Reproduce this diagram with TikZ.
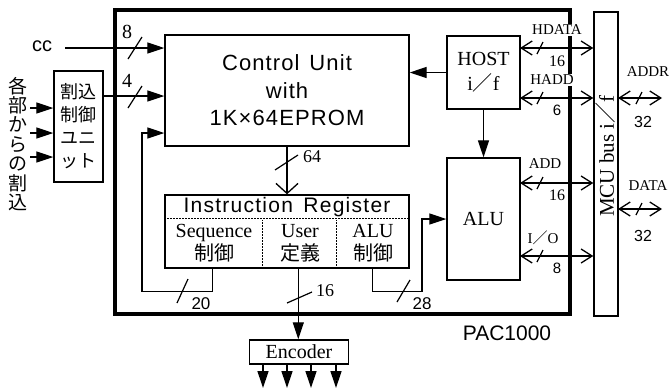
\documentclass[tikz,border=0pt]{standalone}
\usepackage{fontspec}
\setmainfont{Liberation Serif}
\setsansfont{Liberation Sans}
\newfontfamily\cjk{Noto Sans CJK JP}
\usetikzlibrary{arrows.meta,calc}
\newcommand\fsz[2]{\fontsize{#1}{#2}\selectfont}
\begin{document}
\begin{tikzpicture}[x=1pt,y=-1pt,line width=1.3pt,
  box/.style={draw,line width=1.4pt,inner sep=0pt,align=center},
  lbl/.style={inner sep=0pt,align=center},
  fa/.style={-{Triangle[length=17pt,width=11pt]}},
  bi/.style={{Straight Barb[length=11pt,width=14pt]}-{Straight Barb[length=11pt,width=14pt]}},
  sl/.style={line width=1.2pt},
  dots/.style={line width=1.3pt,dash pattern=on 1.5pt off 1.5pt}]
\useasboundingbox (0,0) rectangle (672,389);
% frame
\node[draw,line width=4pt,minimum width=455pt,minimum height=304pt,inner sep=0pt] (pac) at (342.5,162) {};
\node[lbl,font=\sffamily\fsz{21}{24}] (paclbl) at (507,333) {PAC1000};
% boxes
\node[box,minimum width=244pt,minimum height=111pt,font=\sffamily\fsz{22}{27.5}\addfontfeature{LetterSpace=5}] (cu) at (287,90.5) {Control\hspace{0.45em}Unit\\with\\1K×64EPROM};
\node[box,minimum width=73pt,minimum height=73pt,font=\fsz{20}{25}] (host) at (483.5,72.5) {HOST\\i{\cjk ／}f};
\node[box,minimum width=73pt,minimum height=122pt,font=\fsz{20}{24}] (alu) at (483.5,219) {ALU};
\node[box,minimum width=244pt,minimum height=73pt] (ir) at (287,231.5) {};
\node[box,minimum width=24pt,minimum height=304pt] (mcu) at (606,164) {};
\node[lbl,rotate=90,font=\fsz{21}{24}] (mculbl) at (606,156) {MCU bus i{\cjk ／}f};
\node[box,minimum width=49pt,minimum height=111pt,font=\cjk\fsz{18}{23}] (int) at (78.5,126.5) {割込\\制御\\ユニ\\ット};
\node[box,minimum width=99pt,minimum height=24pt,font=\fsz{20}{24}] (enc) at (299,352) {Encoder};
% IR contents
\draw[dots] ($(ir.north west)+(0,24)$) -- ($(ir.north east)+(0,24)$);
\draw[dots] ($(ir.south west)+(98,0)$) -- ($(ir.south west)+(98,-49)$);
\draw[dots] ($(ir.south west)+(172,0)$) -- ($(ir.south west)+(172,-49)$);
\node[lbl,font=\sffamily\fsz{21}{24}\addfontfeature{LetterSpace=6}] (irlbl) at (287,207) {Instruction\hspace{0.5em}Register};
\node[lbl,font=\fsz{20}{23}] (seq) at (214,243.5) {Sequence\\{\cjk 制御}};
\node[lbl,font=\fsz{20}{23}] (usr) at (300,243.5) {User\\{\cjk 定義}};
\node[lbl,font=\fsz{20}{23}] (aluc) at (373,243.5) {ALU\\{\cjk 制御}};
% left texts
\node[lbl,font=\cjk\fsz{19}{19.4}] (vt) at (18,144) {各\\部\\か\\ら\\の\\割\\込};
\node[lbl,font=\sffamily\fsz{20}{24}] (cc) at (42,46) {cc};
% inputs
\foreach \y/\n in {108/a,133/b,157/c}{
  \coordinate (in\n) at (30,\y);
  \draw[fa] (in\n) -- (in\n -| int.west);
}
\coordinate (ccs) at (65,48);
\draw[fa] (ccs) -- (ccs -| cu.west);
\draw[sl] (128,59) -- (142,37);
\node[lbl,font=\fsz{20}{22}] (l8) at (127,32) {8};
\coordinate (i4) at (103,96);
\draw[fa] (i4) -- (i4 -| cu.west);
\draw[sl] (128,108) -- (142,86);
\node[lbl,font=\fsz{20}{22}] (l4) at (127,81) {4};
% feedback from sequence
\coordinate (seqo) at ($(ir.south west)+(48,0)$);
\coordinate (fb) at (142,133);
\draw[fa] (seqo) -- ++(0,23) -| (fb) -- (fb -| cu.west);
\draw[sl] (177,303) -- (188,279);
\node[lbl,font=\sffamily\fsz{17}{19}] (l20) at (201,304) {20};
% ALU control
\coordinate (aluo) at ($(ir.south west)+(208,0)$);
\coordinate (ac) at (422,219);
\draw[fa] (aluo) -- ++(0,23) -| (ac) -- (ac -| alu.west);
\draw[sl] (397,302) -- (410,280);
\node[lbl,font=\sffamily\fsz{17}{19}] (l28) at (422,304) {28};
% user -> encoder
\coordinate (useo) at ($(ir.south west)+(134,0)$);
\draw[fa] (useo) -- (useo |- enc.north);
\draw[sl] (287,303) -- (312,292);
\node[lbl,font=\fsz{18}{20}] (l16u) at (325,291) {16};
\foreach \x in {263,287,311,336}{
  \draw[fa] (enc.south -| \x,0) -- (\x,388);
}
% CU -> IR
\draw[-{Straight Barb[length=10pt,width=22pt]}] (cu.south) -- (ir.north);
\draw[sl] (275,170) -- (298,155);
\node[lbl,font=\fsz{18}{20}] (l64) at (312,157) {64};
% host
\draw[fa] (host.west) -- (host.west -| cu.east);
\draw[fa] (host.south) -- (alu.north);
% bus labels
\node[lbl,fill=white,inner sep=1pt,font=\fsz{15}{17}] (hd) at (557,30) {HDATA};
\node[lbl,font=\fsz{16}{18}] (hd16) at (557,61) {16};
\node[lbl,fill=white,inner sep=1pt,font=\fsz{15}{17}] (ha) at (552,80) {HADD};
\node[lbl,font=\sffamily\fsz{15}{17}] (ha6) at (557,110) {6};
\node[lbl,font=\fsz{15}{17}] (ad) at (545,164) {ADD};
\node[lbl,font=\fsz{16}{18}] (ad16) at (557,195) {16};
\node[lbl,font=\fsz{15}{17}] (io) at (543,238) {I{\cjk ／}O};
\node[lbl,font=\sffamily\fsz{15}{17}] (io8) at (557,268) {8};
\foreach \y/\n in {48/a,98/b,183/c,256/d}{
  \coordinate (bb\n) at (520,\y);
  \draw[bi] (bb\n) -- (bb\n -| mcu.west);
  \draw[sl] (537,\y+6) -- (543,\y-6);
}
% external
\coordinate (ea) at (618,98);
\coordinate (eae) at (662,98);
\draw[bi] (ea) -- (eae);
\draw[sl] (636,104) -- (642,92);
\node[lbl,font=\fsz{15}{17}] (addr) at (648,72) {ADDR};
\node[lbl,font=\sffamily\fsz{16}{18}] (a32) at (643,122) {32};
\coordinate (eb) at (618,209);
\coordinate (ebe) at (662,209);
\draw[bi] (eb) -- (ebe);
\draw[sl] (636,215) -- (642,203);
\node[lbl,font=\fsz{15}{17}] (data) at (648,186) {DATA};
\node[lbl,font=\sffamily\fsz{16}{18}] (d32) at (643,236) {32};
\end{tikzpicture}
\end{document}
